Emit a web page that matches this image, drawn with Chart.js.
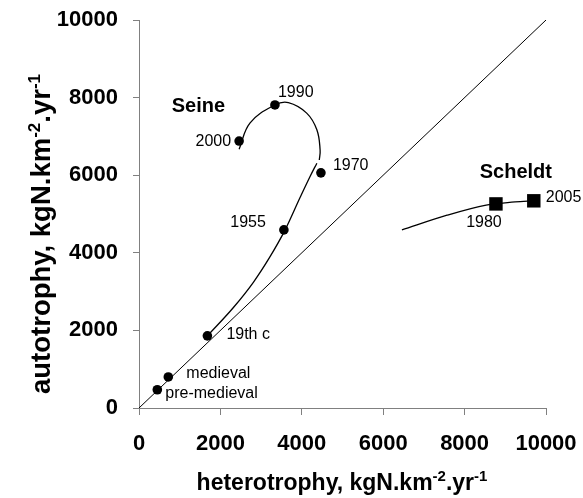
<!DOCTYPE html>
<html>
<head>
<meta charset="utf-8">
<script src="https://cdn.jsdelivr.net/npm/chart.js@4.4.0/dist/chart.umd.min.js"></script>
<style>
  body { margin: 0; background: #fff; }
  canvas { display: block; }
</style>
</head>
<body>
<canvas id="chart" width="583" height="498"></canvas>
<script>
// axis ticks (kgN.km-2.yr-1)
const tickValues = [0, 2000, 4000, 6000, 8000, 10000];

// Seine: heterotrophy (x) vs autotrophy (y)
const seineLabels = ['pre-medieval', 'medieval', '19th c', '1955', '1970', '1990', '2000'];
const seineX = [450, 720, 1680, 3560, 4470, 3340, 2460];
const seineY = [470, 800, 1860, 4590, 6060, 7810, 6880];

// Scheldt
const scheldtLabels = ['1980', '2005'];
const scheldtX = [8770, 9700];
const scheldtY = [5260, 5340];

// trend curves as drawn on the figure
const seineLowX = [1700, 2320, 2810, 3220, 3590, 3960, 4200, 4370];
const seineLowY = [1880, 2590, 3240, 3900, 4590, 5430, 5960, 6310];
const seineHighX = [2460, 2730, 3340, 3670, 4120, 4370, 4450, 4430];
const seineHighY = [6670, 7350, 7810, 7870, 7600, 7170, 6650, 6390];
const scheldtFitX = [6460, 7570, 8530, 8770, 9240, 9700];
const scheldtFitY = [4590, 4970, 5230, 5260, 5310, 5340];

// 1:1 line
const oneToOne = [0, 10000];

const FONT = '"Liberation Sans", Arial, Helvetica, sans-serif';

// where each point label sits relative to its marker (pixels)
const seineLabelPos = [
  { align: 'left', dx: 8, dy: 4 },
  { align: 'left', dx: 18, dy: -3 },
  { align: 'left', dx: 19, dy: -1 },
  { align: 'right', dx: -18, dy: -7 },
  { align: 'left', dx: 12, dy: -7 },
  { align: 'left', dx: 3, dy: -12 },
  { align: 'right', dx: -8, dy: 1 }
];
const scheldtLabelPos = [
  { align: 'center', dx: -12, dy: 19 },
  { align: 'left', dx: 12, dy: -3 }
];
const seriesNames = [
  { text: 'Seine', x: 1460, y: 7780 },
  { text: 'Scheldt', x: 9260, y: 6060 }
];

const toPts = (xs, ys) => xs.map((v, i) => ({ x: v, y: ys[i] }));

function drawRich(ctx, parts, size, supSize, rise) {
  let w = 0;
  parts.forEach(p => {
    ctx.font = 'bold ' + (p[1] ? supSize : size) + 'px ' + FONT;
    w += ctx.measureText(p[0]).width;
  });
  let cx = -w / 2;
  parts.forEach(p => {
    ctx.font = 'bold ' + (p[1] ? supSize : size) + 'px ' + FONT;
    ctx.fillText(p[0], cx, p[1] ? -rise : 0);
    cx += ctx.measureText(p[0]).width;
  });
}

const annotate = {
  id: 'annotate',
  afterDatasetsDraw(chart) {
    const { ctx } = chart;
    const x = chart.scales.x, y = chart.scales.y;
    ctx.save();
    ctx.fillStyle = '#000';
    ctx.textBaseline = 'middle';
    ctx.font = '16px ' + FONT;
    seineLabels.forEach((t, i) => {
      const o = seineLabelPos[i];
      ctx.textAlign = o.align;
      ctx.fillText(t, x.getPixelForValue(seineX[i]) + o.dx, y.getPixelForValue(seineY[i]) + o.dy);
    });
    scheldtLabels.forEach((t, i) => {
      const o = scheldtLabelPos[i];
      ctx.textAlign = o.align;
      ctx.fillText(t, x.getPixelForValue(scheldtX[i]) + o.dx, y.getPixelForValue(scheldtY[i]) + o.dy);
    });
    ctx.font = 'bold 20px ' + FONT;
    ctx.textAlign = 'center';
    seriesNames.forEach(s => {
      ctx.fillText(s.text, x.getPixelForValue(s.x), y.getPixelForValue(s.y));
    });

    // axis titles with superscripts
    ctx.textAlign = 'left';
    ctx.textBaseline = 'alphabetic';
    ctx.save();
    ctx.translate(342, 490);
    drawRich(ctx, [['heterotrophy, kgN.km', 0], ['-2', 1], ['.yr', 0], ['-1', 1]], 23, 15, 9);
    ctx.restore();
    ctx.save();
    ctx.translate(50, 234);
    ctx.rotate(-Math.PI / 2);
    drawRich(ctx, [['autotrophy, kgN.km', 0], ['-2', 1], ['.yr', 0], ['-1', 1]], 27.5, 17, 10);
    ctx.restore();
    ctx.restore();
  }
};

const tickFont = { family: FONT, size: 22, weight: 'bold' };

// keep the plot box fixed: no automatic padding for overhanging labels
const noPad = s => { s.paddingTop = 0; s.paddingBottom = 0; s.paddingLeft = 0; s.paddingRight = 0; };

new Chart(document.getElementById('chart'), {
  type: 'scatter',
  data: {
    datasets: [
      {
        type: 'line', data: toPts(oneToOne, oneToOne),
        borderColor: '#000', borderWidth: 1, pointRadius: 0, tension: 0
      },
      {
        type: 'line', data: toPts(seineLowX, seineLowY),
        borderColor: '#000', borderWidth: 1.3, pointRadius: 0, cubicInterpolationMode: 'monotone'
      },
      {
        type: 'line', data: toPts(seineHighX, seineHighY),
        borderColor: '#000', borderWidth: 1.3, pointRadius: 0, tension: 0.4
      },
      {
        type: 'line', data: toPts(scheldtFitX, scheldtFitY),
        borderColor: '#000', borderWidth: 1.3, pointRadius: 0, cubicInterpolationMode: 'monotone'
      },
      {
        data: toPts(seineX, seineY),
        pointStyle: 'circle', pointRadius: 4.8,
        backgroundColor: '#000', borderColor: '#000', borderWidth: 0
      },
      {
        data: toPts(scheldtX, scheldtY),
        pointStyle: 'rect', pointRadius: 9.5,
        backgroundColor: '#000', borderColor: '#000', borderWidth: 0
      }
    ]
  },
  options: {
    responsive: false,
    devicePixelRatio: 1,
    animation: false,
    layout: { padding: { top: 20, right: 37, left: 0, bottom: 0 } },
    plugins: { legend: { display: false }, tooltip: { enabled: false } },
    scales: {
      x: {
        type: 'linear', min: 0, max: 10000,
        afterBuildTicks: s => { s.ticks = tickValues.map(v => ({ value: v })); },
        afterFit: s => { s.height = 90; noPad(s); },
        grid: { drawOnChartArea: false, tickLength: 7, color: '#808080' },
        border: { color: '#808080', width: 1 },
        ticks: { font: tickFont, color: '#000', padding: 16, maxRotation: 0, callback: v => String(v) }
      },
      y: {
        type: 'linear', min: 0, max: 10000,
        afterBuildTicks: s => { s.ticks = tickValues.map(v => ({ value: v })); },
        afterFit: s => { s.width = 139; noPad(s); },
        grid: { drawOnChartArea: false, tickLength: 6, color: '#808080' },
        border: { color: '#808080', width: 1 },
        ticks: { font: tickFont, color: '#000', padding: 15, callback: v => String(v) }
      }
    }
  },
  plugins: [annotate]
});
</script>
</body>
</html>
